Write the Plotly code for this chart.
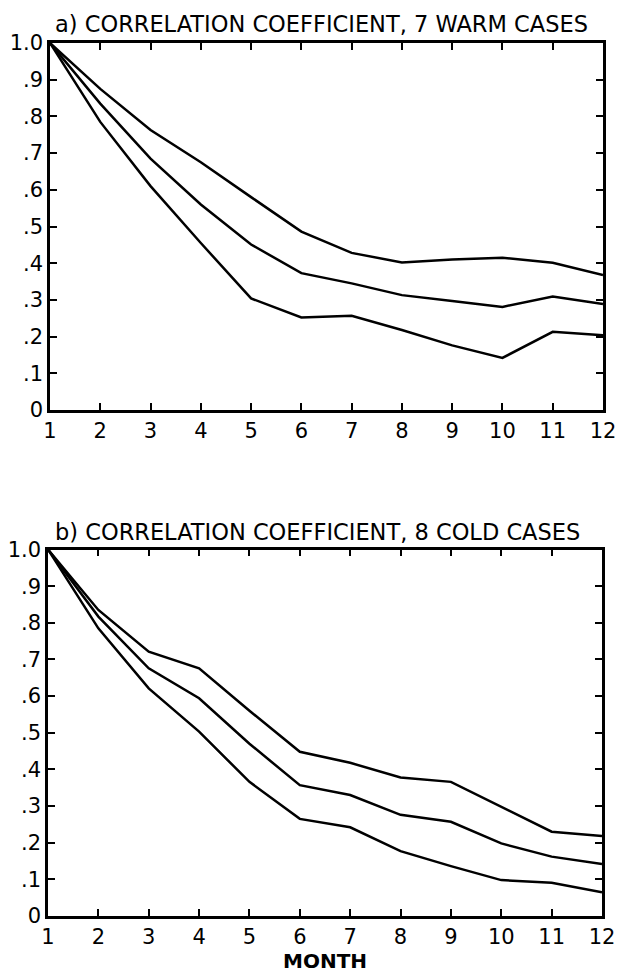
import plotly.graph_objects as go

months = [1, 2, 3, 4, 5, 6, 7, 8, 9, 10, 11, 12]

warm_upper = [1.0, 0.875, 0.763, 0.675, 0.58, 0.486, 0.428, 0.402, 0.41, 0.415, 0.401, 0.368]
warm_middle = [1.0, 0.835, 0.685, 0.56, 0.451, 0.373, 0.345, 0.313, 0.297, 0.281, 0.309, 0.289]
warm_lower = [1.0, 0.785, 0.61, 0.455, 0.304, 0.252, 0.257, 0.218, 0.176, 0.142, 0.213, 0.204]

cold_upper = [1.0, 0.835, 0.721, 0.676, 0.56, 0.448, 0.418, 0.378, 0.366, 0.298, 0.23, 0.218]
cold_middle = [1.0, 0.817, 0.676, 0.594, 0.47, 0.357, 0.33, 0.276, 0.257, 0.198, 0.162, 0.142]
cold_lower = [1.0, 0.785, 0.621, 0.503, 0.366, 0.265, 0.242, 0.177, 0.136, 0.098, 0.091, 0.065]

y_tickvals = [0, 0.1, 0.2, 0.3, 0.4, 0.5, 0.6, 0.7, 0.8, 0.9, 1.0]
y_ticktext = ["0", ".1", ".2", ".3", ".4", ".5", ".6", ".7", ".8", ".9", "1.0"]
x_ticktext = [str(m) for m in months]

title_a = "a) CORRELATION COEFFICIENT, 7 WARM CASES"
title_b = "b) CORRELATION COEFFICIENT, 8 COLD CASES"
x_title = "MONTH"

W, H = 621, 974
FONT = "DejaVu Sans"

fig = go.Figure()
for s in (warm_upper, warm_middle, warm_lower):
    fig.add_trace(go.Scatter(x=months, y=s, mode="lines", xaxis="x", yaxis="y",
                             line=dict(color="black", width=2.5), showlegend=False))
for s in (cold_upper, cold_middle, cold_lower):
    fig.add_trace(go.Scatter(x=months, y=s, mode="lines", xaxis="x2", yaxis="y2",
                             line=dict(color="black", width=2.5), showlegend=False))

def xax(domain, anchor):
    return dict(domain=domain, anchor=anchor, range=[1, 12], tickvals=months, ticktext=x_ticktext,
                ticks="inside", ticklen=7, tickwidth=2, tickcolor="black",
                showline=True, linecolor="black", linewidth=2.5, mirror="ticks",
                showgrid=False, zeroline=False, automargin=False,
                tickfont=dict(family=FONT, size=21, color="black"))

def yax(domain, anchor):
    return dict(domain=domain, anchor=anchor, range=[0, 1], tickvals=y_tickvals, ticktext=y_ticktext,
                ticks="inside", ticklen=7, tickwidth=2, tickcolor="black",
                showline=True, linecolor="black", linewidth=2.5, mirror="ticks",
                showgrid=False, zeroline=False, automargin=False,
                tickfont=dict(family=FONT, size=21, color="black"))

fig.update_layout(
    width=W, height=H,
    margin=dict(l=0, r=0, t=0, b=0, autoexpand=False),
    paper_bgcolor="white", plot_bgcolor="white",
    xaxis=xax([50 / W, 603 / W], "y"),
    yaxis=yax([1 - 410 / H, 1 - 43 / H], "x"),
    xaxis2=xax([48 / W, 602 / W], "y2"),
    yaxis2=yax([1 - 916 / H, 1 - 549.5 / H], "x2"),
    annotations=[
        dict(text=title_a, x=53 / W, y=1 - 24 / H, xref="paper", yref="paper",
             xanchor="left", yanchor="middle", showarrow=False,
             font=dict(family=FONT, size=22.5, color="black")),
        dict(text=title_b, x=53 / W, y=1 - 532 / H, xref="paper", yref="paper",
             xanchor="left", yanchor="middle", showarrow=False,
             font=dict(family=FONT, size=22.5, color="black")),
        dict(text="<b>" + x_title + "</b>", x=325 / W, y=1 - 961 / H, xref="paper", yref="paper",
             xanchor="center", yanchor="middle", showarrow=False,
             font=dict(family=FONT, size=20, color="black")),
    ],
)

fig.write_html("out.html", config={"displayModeBar": False},
               post_script="document.body.style.margin='0';document.body.style.padding='0';")
